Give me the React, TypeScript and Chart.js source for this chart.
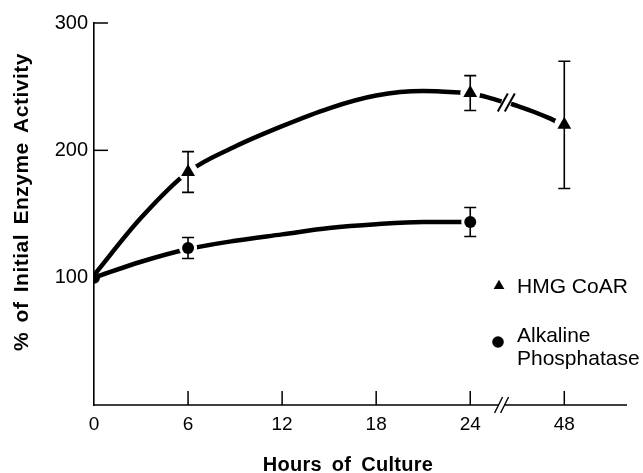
import React, { useEffect, useRef } from "react";
import { Chart, registerables } from "chart.js";

Chart.register(...registerables);

const FONT = '"Liberation Sans", Arial, Helvetica, sans-serif';

// ---- axis definitions ----
const X_TICK_HOURS = [0, 6, 12, 18, 24, 48];
const X_TICK_LABELS = ["0", "6", "12", "18", "24", "48"];
const X_MAX_HOUR = 64;
const Y_TICKS = [100, 200, 300];
const Y_INNER_TICKS = [200, 300];
const Y_MIN = 0;
const Y_MAX = 300;
const AXIS_BREAK_HOUR = 32;
const CURVE_BREAK_HOUR = 33.2;
const CURVE_BREAK_VALUE = 237.5;

// ---- measured points (mean, SE) ----
const HMG_HOURS = [6, 24, 48];
const HMG_MEAN = [183, 245, 220];
const HMG_ERR = [16, 13.7, 50];

const ALP_HOURS = [0, 6, 24];
const ALP_MEAN = [100, 123.3, 143.7];
const ALP_ERR = [0, 8.3, 11.4];

// ---- drawn (fitted) curves ----
const HMG_FIT_HOURS = [0, 3, 6, 9, 12, 15, 18, 21, 24];
const HMG_FIT = [102, 147, 183, 203, 219, 233, 243, 246.5, 245];
const HMG_LATE_HOURS = [24, 28, 32, 33.2, 34.4, 36, 40, 44, 48];
const HMG_LATE = [245, 242, 238.5, null, 236.5, 235, 230.5, 225.5, 220];
const ALP_FIT_HOURS = [0, 3, 6, 9, 12, 15, 18, 21, 24];
const ALP_FIT = [100, 112.5, 122.5, 129, 134, 139, 142, 143.7, 143.7];

// ---- text ----
const X_TITLE = "Hours of Culture";
const Y_TITLE = "% of Initial Enzyme Activity";
const LEGEND_HMG = ["HMG CoAR"];
const LEGEND_ALP = ["Alkaline", "Phosphatase"];

// hours after 24 are compressed on the axis (axis break)
const hourToPos = (h: number) => (h <= 24 ? h : 24 + (h - 24) / 4);

const toXY = (hours: number[], vals: (number | null)[]) =>
  hours.map((h, i) => ({ x: hourToPos(h), y: vals[i] }));

const decorPlugin = {
  id: "decor",
  afterDatasetsDraw(chart: any) {
    const { ctx, chartArea } = chart;
    const xs = chart.scales.x;
    const ys = chart.scales.y;
    const px = (h: number) => xs.getPixelForValue(hourToPos(h));
    const py = (v: number) => ys.getPixelForValue(v);
    ctx.save();
    ctx.strokeStyle = "#000";
    ctx.fillStyle = "#000";
    ctx.lineCap = "butt";

    // error bars
    ctx.lineWidth = 1.6;
    const bars = (hours: number[], means: number[], errs: number[]) => {
      hours.forEach((h, i) => {
        if (!errs[i]) return;
        const X = px(h);
        const T = py(means[i] + errs[i]);
        const B = py(means[i] - errs[i]);
        ctx.beginPath();
        ctx.moveTo(X, T);
        ctx.lineTo(X, B);
        ctx.moveTo(X - 6, T);
        ctx.lineTo(X + 6, T);
        ctx.moveTo(X - 6, B);
        ctx.lineTo(X + 6, B);
        ctx.stroke();
      });
    };
    bars(HMG_HOURS, HMG_MEAN, HMG_ERR);
    bars(ALP_HOURS, ALP_MEAN, ALP_ERR);

    // curve break slashes
    const cbx = px(CURVE_BREAK_HOUR);
    const cby = py(CURVE_BREAK_VALUE);
    ctx.lineWidth = 2;
    [-3.5, 3.5].forEach((d) => {
      ctx.beginPath();
      ctx.moveTo(cbx + d - 5, cby + 9);
      ctx.lineTo(cbx + d + 5, cby - 9);
      ctx.stroke();
    });

    // x axis with break
    const bx = px(AXIS_BREAK_HOUR);
    const yb = chartArea.bottom;
    ctx.lineWidth = 1.6;
    ctx.beginPath();
    ctx.moveTo(chartArea.left, yb);
    ctx.lineTo(bx - 3, yb);
    ctx.moveTo(bx + 3, yb);
    ctx.lineTo(chartArea.right, yb);
    ctx.stroke();
    ctx.lineWidth = 1.4;
    [-3, 3].forEach((d) => {
      ctx.beginPath();
      ctx.moveTo(bx + d - 4, yb + 8);
      ctx.lineTo(bx + d + 4, yb - 8);
      ctx.stroke();
    });

    // inward tick marks
    ctx.lineWidth = 1.5;
    X_TICK_HOURS.forEach((h) => {
      if (h === 0) return;
      const X = px(h);
      ctx.beginPath();
      ctx.moveTo(X, yb);
      ctx.lineTo(X, yb - 14);
      ctx.stroke();
    });
    Y_INNER_TICKS.forEach((v) => {
      const Y = py(v);
      ctx.beginPath();
      ctx.moveTo(chartArea.left, Y);
      ctx.lineTo(chartArea.left + 14, Y);
      ctx.stroke();
    });

    // axis titles
    ctx.font = `bold 20px ${FONT}`;
    ctx.textAlign = "center";
    ctx.textBaseline = "alphabetic";
    (ctx as any).letterSpacing = "0.3px";
    (ctx as any).wordSpacing = "4px";
    ctx.fillText(X_TITLE, 348, 471);
    ctx.save();
    ctx.translate(28, 202);
    ctx.rotate(-Math.PI / 2);
    ctx.font = `bold 21px ${FONT}`;
    (ctx as any).letterSpacing = "0.5px";
    (ctx as any).wordSpacing = "3px";
    ctx.fillText(Y_TITLE, 0, 0);
    ctx.restore();
    (ctx as any).letterSpacing = "0px";
    (ctx as any).wordSpacing = "0px";

    // legend
    const lx = 499;
    ctx.beginPath();
    const tr = 6.2;
    const ty = 286;
    for (let k = 0; k < 3; k++) {
      const a = (k * 2 * Math.PI) / 3;
      const X = lx + Math.sin(a) * tr;
      const Y = ty - Math.cos(a) * tr;
      if (k === 0) ctx.moveTo(X, Y);
      else ctx.lineTo(X, Y);
    }
    ctx.closePath();
    ctx.fill();
    ctx.beginPath();
    ctx.arc(lx - 1, 342, 5.8, 0, Math.PI * 2);
    ctx.fill();
    ctx.font = `21px ${FONT}`;
    ctx.textAlign = "left";
    LEGEND_HMG.forEach((t, i) => ctx.fillText(t, 517, 293 + i * 23));
    LEGEND_ALP.forEach((t, i) => ctx.fillText(t, 517, 342 + i * 23));

    ctx.restore();
  },
};

export default function App() {
  const ref = useRef<HTMLCanvasElement | null>(null);

  useEffect(() => {
    if (!ref.current) return;
    const curveStyle = {
      borderColor: "#000",
      borderWidth: 4.5,
      pointRadius: 0,
      cubicInterpolationMode: "monotone" as const,
      spanGaps: false,
      fill: false,
    };
    const chart = new Chart(ref.current, {
      type: "line",
      data: {
        datasets: [
          { label: "HMG fit", data: toXY(HMG_FIT_HOURS, HMG_FIT), order: 5, ...curveStyle },
          { label: "HMG fit late", data: toXY(HMG_LATE_HOURS, HMG_LATE), order: 5, ...curveStyle },
          { label: "ALP fit", data: toXY(ALP_FIT_HOURS, ALP_FIT), order: 5, ...curveStyle },
          {
            label: "HMG halo",
            data: toXY(HMG_HOURS, HMG_MEAN),
            showLine: false,
            pointStyle: "circle",
            pointRadius: 10,
            pointBackgroundColor: "#fff",
            pointBorderWidth: 0,
            order: 3,
          },
          {
            label: "ALP halo",
            data: toXY(ALP_HOURS, ALP_MEAN),
            showLine: false,
            pointStyle: "circle",
            pointRadius: (c: any) => (ALP_HOURS[c.dataIndex] === 0 ? 0 : 9),
            pointBackgroundColor: "#fff",
            pointBorderWidth: 0,
            order: 3,
          },
          {
            label: "HMG CoAR",
            data: toXY(HMG_HOURS, HMG_MEAN),
            showLine: false,
            pointStyle: "triangle",
            pointRadius: 8,
            pointBackgroundColor: "#000",
            pointBorderWidth: 0,
            order: 1,
          },
          {
            label: "Alkaline Phosphatase",
            data: toXY(ALP_HOURS, ALP_MEAN),
            showLine: false,
            pointStyle: "circle",
            pointRadius: 6,
            pointBackgroundColor: "#000",
            pointBorderWidth: 0,
            order: 1,
          },
        ],
      },
      options: {
        animation: false,
        responsive: false,
        events: [],
        layout: { padding: { top: 23, right: 16, left: 0, bottom: 0 } },
        plugins: {
          legend: { display: false },
          tooltip: { enabled: false },
          title: { display: false },
        },
        scales: {
          x: {
            type: "linear",
            min: 0,
            max: hourToPos(X_MAX_HOUR),
            afterBuildTicks: (s: any) => {
              s.ticks = X_TICK_HOURS.map((h) => ({ value: hourToPos(h) }));
            },
            afterFit: (s: any) => {
              s.height = 68;
            },
            ticks: {
              autoSkip: false,
              maxRotation: 0,
              color: "#000",
              padding: 8,
              font: { family: FONT, size: 19 },
              callback: (v: any) => {
                const i = X_TICK_HOURS.findIndex((h) => hourToPos(h) === v);
                return i >= 0 ? X_TICK_LABELS[i] : "";
              },
            },
            grid: { display: false, drawTicks: false },
            border: { display: false },
          },
          y: {
            type: "linear",
            min: Y_MIN,
            max: Y_MAX,
            afterBuildTicks: (s: any) => {
              s.ticks = Y_TICKS.map((v) => ({ value: v }));
            },
            afterFit: (s: any) => {
              s.width = 94;
            },
            ticks: {
              color: "#000",
              padding: 6,
              font: { family: FONT, size: 20 },
              callback: (v: any) => String(v),
            },
            grid: { display: false, drawTicks: false },
            border: { display: true, color: "#000", width: 1.6 },
          },
        },
      },
      plugins: [decorPlugin],
    } as any);
    return () => chart.destroy();
  }, []);

  return (
    <div style={{ position: "absolute", left: 0, top: 0, width: 643, height: 473, background: "#fff" }}>
      <canvas ref={ref} width={643} height={473} style={{ width: 643, height: 473 }} />
    </div>
  );
}
